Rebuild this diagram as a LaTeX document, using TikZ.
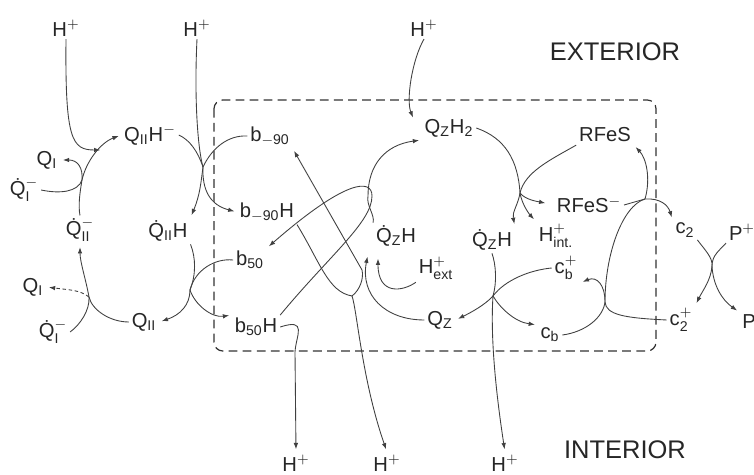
\documentclass[tikz,border=0pt]{standalone}
\usepackage{amsmath}
\usepackage{fontspec}
\setmainfont{Liberation Sans}
\usetikzlibrary{arrows.meta}

\begin{document}
\begin{tikzpicture}[
  x=0.02cm, y=-0.02cm,
  lbl/.style={font=\fontsize{11.5}{13}\selectfont, inner sep=1.5pt, text=black!85},
  region/.style={font=\fontsize{14.5}{17}\selectfont, text=black!85},
  ln/.style={line width=0.5pt, draw=black!75},
  arr/.style={ln, -{Latex[length=3.6pt,width=2.6pt]}, shorten >=1.5pt},
  membrane/.style={draw=black!80, line width=0.7pt, dash pattern=on 5pt off 3pt, rounded corners=5pt}
]
  \useasboundingbox (0,0) rectangle (754,475);

  % membrane
  \draw[membrane] (214,100) rectangle (656,351);
  \node[region] (ext) at (615,52) {EXTERIOR};
  \node[region] (int) at (625,450) {INTERIOR};

  % protons
  \node[lbl] (hTopA) at (66,28) {H$^{+}$};
  \node[lbl] (hTopB) at (197,28) {H$^{+}$};
  \node[lbl] (hTopC) at (424,28) {H$^{+}$};
  \node[lbl] (hBotA) at (296,463) {H$^{+}$};
  \node[lbl] (hBotB) at (387,463) {H$^{+}$};
  \node[lbl] (hBotC) at (505,463) {H$^{+}$};

  % quinones, left
  \node[lbl] (qI) at (47,160) {Q$_{\mathrm{I}}$};
  \node[lbl] (qIsq) at (24,190) {Q̇$_{\mathrm{I}}^{-}$};
  \node[lbl] (qIIHm) at (150,135) {Q$_{\mathrm{II}}$H$^{-}$};
  \node[lbl] (qIIsq) at (80,230) {Q̇$_{\mathrm{II}}^{-}$};
  \node[lbl] (qIIsqH) at (168,231) {Q̇$_{\mathrm{II}}$H};
  \node[lbl] (qIlow) at (33,287) {Q$_{\mathrm{I}}$};
  \node[lbl] (qIsqlow) at (53,332) {Q̇$_{\mathrm{I}}^{-}$};
  \node[lbl] (qII) at (144,322) {Q$_{\mathrm{II}}$};

  % cytochromes b
  \node[lbl] (bm90) at (270,136) {b\textsubscript{$-$90}};
  \node[lbl] (bm90H) at (267,212) {b\textsubscript{$-$90}H};
  \node[lbl] (b50) at (250,260) {b\textsubscript{50}};
  \node[lbl] (b50H) at (256,327) {b\textsubscript{50}H};

  % quinones, centre
  \node[lbl] (qzhh) at (449,128) {Q\textsubscript{Z}H\textsubscript{2}};
  \node[lbl] (qzsqA) at (396,236) {Q̇\textsubscript{Z}H};
  \node[lbl] (hext) at (436,268) {H$^{+}_{\text{ext}}$};
  \node[lbl] (qz) at (440,320) {Q\textsubscript{Z}};
  \node[lbl] (qzsqB) at (492,240) {Q̇\textsubscript{Z}H};
  \node[lbl] (hint) at (556,236) {H$^{+}_{\text{int.}}$};

  % right side
  \node[lbl] (rfes) at (605,135) {RFeS};
  \node[lbl] (rfesm) at (589,205) {RFeS$^{-}$};
  \node[lbl] (cbp) at (566,268) {c$_{\text{b}}^{+}$};
  \node[lbl] (cb) at (550,335) {c\textsubscript{b}};
  \node[lbl] (c2) at (685,230) {c\textsubscript{2}};
  \node[lbl] (c2p) at (681,320) {c$_{\text{2}}^{+}$};
  \node[lbl] (pplus) at (742,232) {P$^{+}$};
  \node[lbl] (pred) at (749,322) {P};

  % junctions and free ends
  \coordinate (jA) at (82,180);
  \coordinate (jB) at (203,167);
  \coordinate (jC) at (190,290);
  \coordinate (jD) at (89,297);
  \coordinate (jE) at (368,196);
  \coordinate (jF) at (352,296);
  \coordinate (jG) at (520,193);
  \coordinate (jH) at (493,296);
  \coordinate (jI) at (645,199);
  \coordinate (jJ) at (605,302);
  \coordinate (jK) at (712,266);
  \coordinate (tipA) at (103,150);
  \coordinate (tipC) at (414,120);
  \coordinate (tipQz) at (368,254);
  \coordinate (tipHx) at (378,256);

  % left cycle
  \draw[arr] (hTopA.south) .. controls (65,140) and (72,150) .. (tipA);
  \draw[ln] (qIsq.east) .. controls (60,194) and (78,192) .. (jA);
  \draw[arr] (qIIsq.north) .. controls (78,205) and (80,192) .. (jA) .. controls (86,162) and (100,143) .. (qIIHm.west);
  \draw[arr] (jA) .. controls (83,168) and (78,160) .. (qI.east);

  \draw[ln] (hTopB.south) .. controls (194,100) and (198,150) .. (jB);
  \draw[ln] (qIIHm.east) .. controls (190,140) and (198,152) .. (jB);
  \draw[ln] (bm90.west) .. controls (228,135) and (212,148) .. (jB);
  \draw[arr] (jB) .. controls (201,182) and (200,195) .. (qIIsqH.north east);
  \draw[arr] (jB) .. controls (202,190) and (210,205) .. (bm90H.west);

  \draw[ln] (qIIsqH.south east) .. controls (196,258) and (196,275) .. (jC);
  \draw[ln] (b50.west) .. controls (215,258) and (195,270) .. (jC);
  \draw[arr] (jC) .. controls (190,305) and (180,315) .. (qII.east);
  \draw[arr] (jC) .. controls (195,305) and (212,318) .. (b50H.north west);

  \draw[arr] (qII.west) .. controls (110,322) and (92,310) .. (jD) .. controls (86,280) and (80,262) .. (qIIsq.south);
  \draw[arr, dash pattern=on 2pt off 1.5pt] (jD) .. controls (80,290) and (70,290) .. (qIlow.east);
  \draw[ln] (qIsqlow.east) .. controls (80,325) and (90,310) .. (jD);

  % centre
  \draw[arr] (hTopC.south) .. controls (412,60) and (406,100) .. (tipC);
  \draw[arr] (qzsqA.north west) .. controls (375,215) and (366,205) .. (jE) .. controls (368,165) and (385,145) .. (qzhh.south west);
  \draw[arr] (b50H.north east) .. controls (330,255) and (372,222) .. (372,196) .. controls (372,178) and (345,180) .. (b50.north east);
  \draw[arr] (bm90H.south east) .. controls (320,262) and (328,292) .. (jF) .. controls (357,310) and (362,380) .. (hBotB.north);
  \draw[arr] (jF) .. controls (360,290) and (364,278) .. (362,270) -- (bm90.south east);
  \draw[arr] (qz.west) .. controls (385,320) and (360,295) .. (tipQz);
  \draw[arr] (hext.south west) .. controls (402,292) and (378,295) .. (tipHx);
  \draw[arr] (b50H.east) .. controls (308,318) and (296,335) .. (295,352) -- (hBotA.north);

  % right centre
  \draw[ln] (qzhh.east) .. controls (505,138) and (518,160) .. (jG);
  \draw[ln] (rfes.south west) .. controls (550,160) and (525,172) .. (jG);
  \draw[arr] (jG) .. controls (518,205) and (512,212) .. (qzsqB.north east);
  \draw[arr] (jG) .. controls (522,205) and (530,215) .. (hint.north west);
  \draw[arr, shorten >=5pt] (jG) .. controls (525,200) and (540,202) .. (rfesm.west);

  \draw[ln] (qzsqB.south) .. controls (496,265) and (497,282) .. (jH);
  \draw[ln] (cbp.west) .. controls (530,270) and (505,280) .. (jH);
  \draw[arr] (jH) .. controls (485,305) and (470,313) .. (qz.east);
  \draw[arr] (jH) .. controls (500,308) and (515,322) .. (cb.north west);
  \draw[arr] (jH) .. controls (490,340) and (497,400) .. (hBotC.north);

  % right side
  \draw[ln] (rfesm.east) -- (jI);
  \draw[arr] (jI) .. controls (660,198) and (668,205) .. (c2.north west);
  \draw[arr] (jI) .. controls (651,178) and (646,158) .. (rfes.south east);
  \draw[ln] (c2p.west) .. controls (625,318) and (606,315) .. (jJ) .. controls (605,255) and (622,206) .. (jI);
  \draw[arr] (cb.east) .. controls (585,332) and (603,318) .. (jJ) .. controls (605,285) and (597,276) .. (cbp.south east);

  \draw[arr] (c2.south east) .. controls (705,250) and (713,258) .. (jK) .. controls (711,280) and (703,290) .. (c2p.north east);
  \draw[arr] (pplus.south west) .. controls (720,250) and (712,255) .. (jK) .. controls (713,285) and (722,300) .. (pred.north west);
\end{tikzpicture}
\end{document}
